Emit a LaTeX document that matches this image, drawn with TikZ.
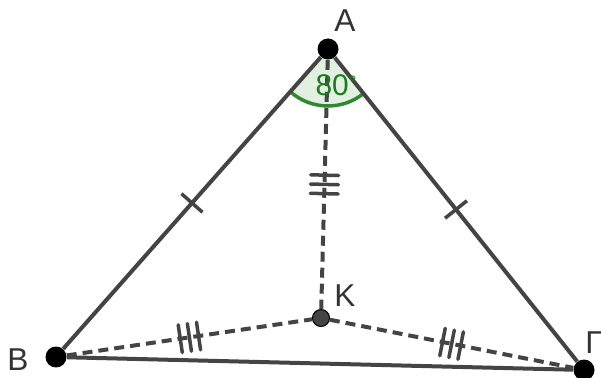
\documentclass[tikz,border=0pt]{standalone}
\usepackage{fontspec}
\setmainfont{Liberation Sans}
\usetikzlibrary{decorations.markings}
\definecolor{segcol}{HTML}{444444}
\definecolor{anggreen}{HTML}{2F8A2F}
\definecolor{angtext}{HTML}{1E7A1E}
\definecolor{angfill}{HTML}{E2F0E2}
\tikzset{
  pt/.style={circle, fill=black, inner sep=0pt, minimum size=0.42cm},
  ptk/.style={circle, draw=black, fill=segcol, line width=0.6pt, inner sep=0pt, minimum size=0.34cm},
  lbl/.style={text=black!80, font=\fontsize{18}{21}\selectfont},
  side/.style={draw=segcol, line width=0.08cm},
  dside/.style={side, dash pattern=on 0.2cm off 0.12cm},
  onetick/.style={postaction={decorate, decoration={markings,
    mark=at position 0.5 with {\draw[segcol, line width=0.07cm, solid] (0,-0.28cm) -- (0,0.28cm);}}}},
  threetick/.style={postaction={decorate, decoration={markings,
    mark=at position 0.5 with {\foreach \s in {-0.185,0,0.185}
      \draw[segcol, line width=0.07cm, line cap=round, solid] (\s cm,-0.28cm) -- (\s cm,0.28cm);}}}}
}
\begin{document}
\begin{tikzpicture}[x=0.02cm, y=0.02cm]
\useasboundingbox (0,0) rectangle (601,378);
% vertices
\coordinate (a) at (328,329);
\fill[angfill] (a) -- ++(228.55:1.14cm) arc[start angle=228.55, end angle=308.6, radius=1.14cm] -- cycle;
\draw[anggreen, line width=0.07cm] (a) ++(228.55:1.14cm) arc[start angle=228.55, end angle=308.6, radius=1.14cm];
\node[pt] (A) at (a) {};
\node[pt] (B) at (56,21) {};
\node[pt] (G) at (584,8) {};
\node[ptk] (K) at (321,60) {};
% labels
\node[lbl] (lA) at (345,357) {A};
\node[lbl] (lB) at (18,18) {B};
\node[lbl] (lG) at (594,35) {Γ};
\node[lbl] (lK) at (345,82) {K};
% sides
\draw[side, onetick] (A) -- (B);
\draw[side, onetick] (A) -- (G);
\draw[side] (B) -- (G);
% segments to K
\draw[dside, threetick] (A) -- (K);
\draw[dside, threetick] (B) -- (K);
\draw[dside, threetick] (K) -- (G);
\node[text=angtext, font=\fontsize{17}{20}\selectfont] (ang) at (336,293) {80\raisebox{0.35ex}{\fontsize{11}{11}\selectfont °}};
\end{tikzpicture}
\end{document}
